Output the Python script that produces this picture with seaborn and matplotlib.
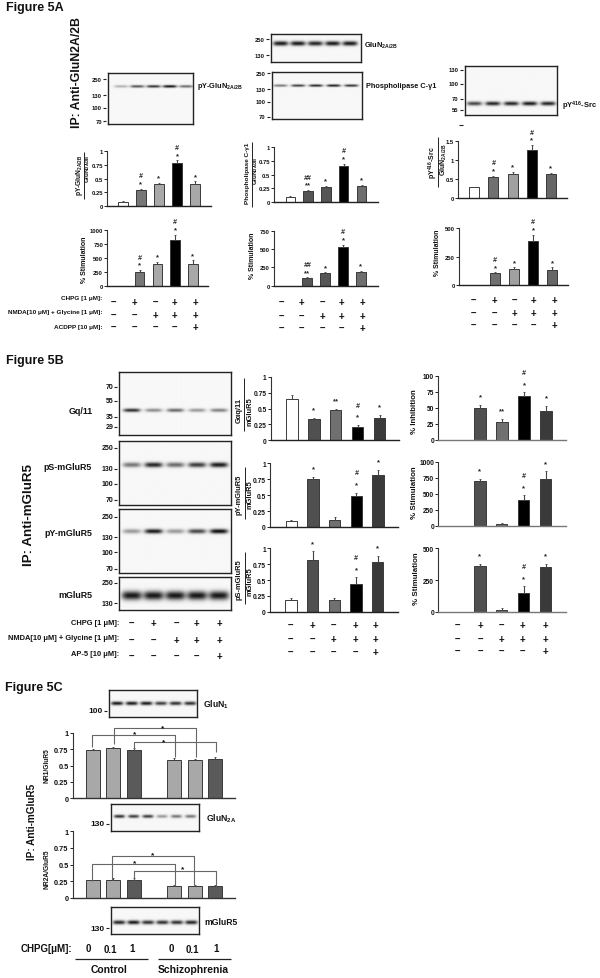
import numpy as np
import pandas as pd
import seaborn as sns
import matplotlib
matplotlib.use("Agg")
import matplotlib.pyplot as plt

W, H = 600, 979

# bar values
a1_values = [0.08, 0.30, 0.41, 0.78, 0.41]
a1_errs = [0.01, 0.02, 0.02, 0.05, 0.04]
a2_values = [0.10, 0.21, 0.28, 0.66, 0.30]
a2_errs = [0.02, 0.01, 0.01, 0.03, 0.01]
a3_values = [0.27, 0.55, 0.64, 1.27, 0.62]
a3_errs = [0.02, 0.03, 0.04, 0.12, 0.04]
a4_values = [0, 250, 390, 825, 390]
a4_errs = [0, 30, 40, 95, 65]
a5_values = [0, 100, 170, 530, 190]
a5_errs = [0, 12, 12, 25, 15]
a6_values = [0, 105, 140, 385, 135]
a6_errs = [0, 8, 15, 55, 20]

b1_values = [0.66, 0.34, 0.48, 0.21, 0.36]
b1_errs = [0.05, 0.02, 0.02, 0.03, 0.04]
b2_values = [0.10, 0.76, 0.11, 0.48, 0.81]
b2_errs = [0.01, 0.03, 0.04, 0.06, 0.09]
b3_values = [0.18, 0.81, 0.19, 0.44, 0.79]
b3_errs = [0.03, 0.14, 0.03, 0.10, 0.09]
b4_values = [0, 49, 27, 68, 45]
b4_errs = [0, 5, 5, 6, 8]
b5_values = [0, 695, 20, 400, 740]
b5_errs = [0, 40, 15, 75, 115]
b6_values = [0, 360, 10, 150, 350]
b6_errs = [0, 20, 20, 50, 30]

c1_values = [0.73, 0.76, 0.73, np.nan, 0.58, 0.58, 0.60]
c1_errs = [0.02, 0.02, 0.03, np.nan, 0.03, 0.02, 0.03]
c2_values = [0.26, 0.27, 0.26, np.nan, 0.18, 0.18, 0.18]
c2_errs = [0.01, 0.02, 0.03, np.nan, 0.015, 0.015, 0.015]

# tick labels
frac_ticks = [0, 0.25, 0.5, 0.75, 1]
frac_labels = ["0", "0.25", "0.5", "0.75", "1"]
a3_ticks = [0, 0.5, 1, 1.5]
a3_labels = ["0", "0.5", "1", "1.5"]
stim1000_ticks = [0, 250, 500, 750, 1000]
stim750_ticks = [0, 250, 500, 750]
stim500_ticks = [0, 250, 500]
inhib_ticks = [0, 25, 50, 75, 100]

# significance marks per bar
a1_stars = ["", "*", "*", "*", "*"]
a2_stars = ["", "**", "*", "*", "*"]
a_hashes = ["", "#", "", "#", ""]
a2_hashes = ["", "##", "", "#", ""]
b1_stars = ["", "*", "**", "*", "*"]
b_stars = ["", "*", "", "*", "*"]
b4_stars = ["", "*", "**", "*", "*"]
b_hashes = ["", "", "", "#", ""]

# treatment rows
chpg_row = ["-", "+", "-", "+", "+"]
nmda_row = ["-", "-", "+", "+", "+"]
drug_row = ["-", "-", "-", "-", "+"]

# band strength per lane
band_a1 = [0.3, 0.7, 0.85, 1.0, 0.6]
band_a2 = [0.95, 0.95, 0.9, 0.95, 0.95]
band_a3 = [0.55, 0.8, 0.9, 0.95, 0.85]
band_src = [0.75, 0.9, 0.9, 0.95, 0.9]
band_gq = [0.85, 0.45, 0.6, 0.4, 0.5]
band_ps = [0.55, 0.9, 0.6, 0.8, 0.95]
band_py = [0.4, 0.95, 0.4, 0.75, 1.0]
band_mglur = [0.95, 0.95, 0.95, 0.95, 0.95]
band_c1 = [0.95, 0.95, 0.95, 0.8, 0.85, 0.85]
band_c2 = [0.85, 0.8, 0.8, 0.4, 0.55, 0.55]
band_c3 = [0.9, 0.95, 0.85, 0.85, 0.85, 0.9]

sns.set_theme(style="white")
plt.rcParams["font.family"] = ["Liberation Sans", "DejaVu Sans"]
plt.rcParams["font.weight"] = "bold"
plt.rcParams["mathtext.fontset"] = "custom"
plt.rcParams["mathtext.bf"] = "Liberation Sans:bold"
plt.rcParams["mathtext.rm"] = "Liberation Sans:bold"
plt.rcParams["mathtext.default"] = "bf"

fig = plt.figure(figsize=(W / 100, H / 100), dpi=100, facecolor="white")

# overlay in pixel coordinates for labels, brackets and rules
ov = fig.add_axes([0, 0, 1, 1], zorder=10)
ov.set_xlim(0, W)
ov.set_ylim(H, 0)
ov.axis("off")
ov.patch.set_alpha(0)


def px_axes(x0, x1, y0, y1):
    return fig.add_axes([x0 / W, 1 - y1 / H, (x1 - x0) / W, (y1 - y0) / H])


def label(x, y, text, size=5, rot=0, ha="center", color="#111111"):
    ov.text(x, y, text, fontsize=size, rotation=rot, ha=ha, va="center",
            color=color, fontweight="bold")


def rule(xs, ys, color="#222222", lw=0.8):
    ov.plot(xs, ys, color=color, lw=lw, solid_capstyle="butt")


def bars(values, errs, colors, box, first, step, barw, ymax, ticks, ticklabels=None,
         stars=None, hashes=None, star_gap=5, hash_gap=8, tick_size=4.2, axis_color="#222222"):
    x0, x1, y_bottom, y_top = box
    ax = px_axes(x0, x1, y_top, y_bottom)
    cats = [f"c{i}" for i in range(len(values))]
    df = pd.DataFrame({"cond": cats, "value": values})
    sns.barplot(data=df, x="cond", y="value", hue="cond", order=cats, hue_order=cats,
                palette=dict(zip(cats, colors)), legend=False, errorbar=None,
                width=barw / step, edgecolor="#3a3a3a", linewidth=0.7, ax=ax)
    pos = np.arange(len(values))
    errs_arr = np.array(errs, dtype=float)
    vals_arr = np.array(values, dtype=float)
    shown = np.nan_to_num(vals_arr) > 0
    ax.errorbar(pos[shown], vals_arr[shown], yerr=[np.zeros(shown.sum()), errs_arr[shown]],
                fmt="none", ecolor="#444444", elinewidth=0.8, capsize=1.0, capthick=0.6)
    ax.set_xlim((x0 - first) / step, (x1 - first) / step)
    ax.set_ylim(0, ymax)
    ax.set_xticks([])
    ax.set_xlabel("")
    ax.set_ylabel("")
    ax.set_yticks(ticks)
    ax.set_yticklabels(ticklabels if ticklabels else [str(t) for t in ticks],
                       fontsize=tick_size, fontweight="bold", color="#111111")
    ax.tick_params(axis="y", length=2, width=0.7, pad=1, left=True, color="#222222")
    ax.patch.set_alpha(0)
    sns.despine(ax=ax)
    ax.spines["left"].set_color("#333333")
    ax.spines["left"].set_linewidth(0.8)
    ax.spines["bottom"].set_color(axis_color)
    ax.spines["bottom"].set_linewidth(1.0)
    if stars:
        for i, s in enumerate(stars):
            top = values[i] + errs[i]
            if s:
                ax.annotate(s, (i, top), xytext=(0, star_gap * 0.72), textcoords="offset points",
                            ha="center", va="center", fontsize=5.5, fontweight="bold",
                            color="#222222", annotation_clip=False)
            if hashes and hashes[i]:
                ax.annotate(hashes[i], (i, top), xytext=(0, (star_gap + hash_gap) * 0.72),
                            textcoords="offset points", ha="center", va="center", fontsize=5,
                            fontstyle="italic", fontweight="bold", color="#222222",
                            annotation_clip=False)
    return ax


def blot(box, first, step, strengths, band_y, half_w, thick, mw=(), mw_labels=(), mw_size=4.2):
    x0, x1, y0, y1 = box
    ax = px_axes(x0, x1, y0, y1)
    xs = np.linspace(x0, x1, int((x1 - x0) * 3))
    ys = np.linspace(y0, y1, int((y1 - y0) * 3))
    xx, yy = np.meshgrid(xs, ys)
    img = np.full(xx.shape, 0.97)
    for i, s in enumerate(strengths):
        cx = first + i * step
        img -= s * 0.92 * np.exp(-((yy - band_y) / thick) ** 2) * np.exp(-((xx - cx) / half_w) ** 4)
    ax.imshow(np.clip(img, 0, 1), cmap="gray", vmin=0, vmax=1, aspect="auto",
              extent=(x0, x1, y1, y0), interpolation="bilinear")
    ax.set_xticks([])
    ax.set_yticks([])
    ax.grid(False)
    for sp in ax.spines.values():
        sp.set_visible(True)
        sp.set_color("#222222")
        sp.set_linewidth(1.0)
    for y, t in zip(mw, mw_labels):
        rule([x0 - 5, x0 - 2], [y, y], lw=0.8)
        label(x0 - 6, y, t, size=mw_size, ha="right")


def treatment_rows(xs, ys, rows):
    for y, row in zip(ys, rows):
        for x, s in zip(xs, row):
            label(x, y, "+" if s == "+" else "\u2013", size=7)


# ---- Figure 5A ----
label(6, 8.5, "Figure 5A", size=9, ha="left")
label(77.5, 73, "IP: Anti-GluN2A/2B", size=8.8, rot=90)

blot((108, 193, 74, 125), 121, 16.3, band_a1, 87.3, 7, 1.3,
     [80, 96, 108.7, 122], ["250", "130", "100", "70"])
label(197, 86, r"pY-GluN$_{2A/2B}$", size=5.3, ha="left")

blot((271, 360.5, 35, 62.7), 280.5, 17.3, band_a2, 44.3, 7.5, 2.3,
     [40, 56], ["250", "130"])
label(364, 46, r"GluN$_{2A/2B}$", size=5.3, ha="left")

blot((271.7, 362.3, 72.7, 120), 280, 17.7, band_a3, 87, 7, 1.2,
     [74.3, 90, 103, 117.7], ["250", "130", "100", "70"])
label(366, 87, "Phospholipase C-\u03b31", size=5.3, ha="left")

blot((464.7, 557.3, 67.3, 116), 474, 18.4, band_src, 104.7, 7.5, 2.0,
     [71, 85, 99.7, 111], ["130", "100", "70", "55"])
label(561.5, 106, r"pY$^{416}$-Src", size=5.4, ha="left")
rule([459, 463], [125.7, 125.7])

a_cols1 = ["white", "#777777", "#a8a8a8", "black", "#a8a8a8"]
a_cols2 = ["white", "#555555", "#555555", "black", "#6e6e6e"]
a_cols3 = ["white", "#707070", "#a0a0a0", "black", "#666666"]

bars(a1_values, a1_errs, a_cols1, (107.3, 211, 207.3, 152), 122.7, 18.1, 10, 1,
     frac_ticks, frac_labels, a1_stars, a_hashes)
bars(a2_values, a2_errs, a_cols2, (274.3, 377.7, 203.3, 147.7), 290.3, 17.8, 9.5, 1,
     frac_ticks, frac_labels, a2_stars, a2_hashes)
bars(a3_values, a3_errs, a_cols3, (458.3, 567.3, 198.7, 142), 474.3, 19.1, 10, 1.5,
     a3_ticks, a3_labels, a1_stars, a_hashes)
bars(a4_values, a4_errs, a_cols1, (107.3, 208.5, 286.7, 231.3), 121.7, 17.8, 9.5, 1000,
     stim1000_ticks, None, a1_stars, a_hashes)
bars(a5_values, a5_errs, a_cols2, (274, 377.7, 286.7, 231.7), 289.3, 17.9, 9.5, 750,
     stim750_ticks, None, a2_stars, a2_hashes)
bars(a6_values, a6_errs, a_cols3, (459.3, 568.3, 286.3, 228.7), 476, 19, 10, 500,
     stim500_ticks, None, a1_stars, a_hashes)

label(79.5, 175, r"pY-GluN$_{2A/2B}$", size=4.8, rot=90)
label(88, 169, r"GluN$_{2A/2B}$", size=4.4, rot=90)
rule([83.8, 83.8], [153, 200], lw=0.7)
label(247, 173, "Phospholipase C-\u03b31", size=4.6, rot=90)
label(255.8, 171, r"GluN$_{2A/2B}$", size=4.4, rot=90)
rule([251.6, 251.6], [142.7, 208], lw=0.7)
label(433, 163, r"pY$^{416}$-Src", size=5, rot=90)
label(444, 159.5, r"GluN$_{2A/2B}$", size=5, rot=90)
rule([438, 438], [137.7, 188], lw=0.7)
label(85, 260, "% Stimulation", size=5, rot=90)
label(252.3, 255.7, "% Stimulation", size=5, rot=90)
label(437.3, 253, "% Stimulation", size=5, rot=90)

label(102, 298.5, "CHPG [1 \u03bcM]:", size=4.6, ha="right")
label(102, 313, "NMDA[10 \u03bcM] + Glycine [1 \u03bcM]:", size=4.6, ha="right")
label(102, 328, "ACDPP [10 \u03bcM]:", size=4.6, ha="right")
treatment_rows([113.7, 134.7, 155, 174, 195], [303, 316, 328.3], [chpg_row, nmda_row, drug_row])
treatment_rows([281.7, 301.7, 322.3, 341.7, 362], [303.3, 317.3, 329], [chpg_row, nmda_row, drug_row])
treatment_rows([473, 494, 514.3, 533.3, 554.3], [300.7, 314, 326], [chpg_row, nmda_row, drug_row])

# ---- Figure 5B ----
label(6, 361, "Figure 5B", size=9, ha="left")
label(29, 515, "IP: Anti-mGluR5", size=9.6, rot=90)

blot((119.3, 230.7, 373, 436), 132, 21.7, band_gq, 411.3, 8.5, 1.8,
     [388, 402, 417.7, 427.7], ["70", "55", "35", "29"], mw_size=5)
blot((119.3, 230.7, 442, 505.7), 132, 21.7, band_ps, 465.7, 9, 2.5,
     [449, 469.7, 485, 501], ["250", "130", "100", "70"], mw_size=5)
blot((119.3, 230.7, 510.3, 573.7), 132, 21.7, band_py, 532.3, 9, 2.3,
     [517.7, 538.3, 553.3, 570], ["250", "130", "100", "70"], mw_size=5)
blot((119.3, 230.7, 578.3, 610.7), 132, 21.7, band_mglur, 596.5, 10, 4.4,
     [583.7, 604.3], ["250", "130"], mw_size=5)
label(92.7, 411.7, "Gq/11", size=6.4, ha="right")
label(92, 467.5, "pS-mGluR5", size=6.4, ha="right")
label(92, 534, "pY-mGluR5", size=6.4, ha="right")
label(92, 596, "mGluR5", size=6.4, ha="right")

b_cols1 = ["white", "#505050", "#707070", "black", "#3a3a3a"]

bars(b1_values, b1_errs, b_cols1, (270.7, 399, 441.3, 378), 292, 21.9, 11.3, 1,
     frac_ticks, frac_labels, b1_stars, b_hashes, star_gap=8, hash_gap=12, tick_size=4.8)
bars(b2_values, b2_errs, b_cols1, (270, 397.7, 528, 464.3), 291.3, 21.7, 11.3, 1,
     frac_ticks, frac_labels, b_stars, b_hashes, star_gap=8, hash_gap=12, tick_size=4.8)
bars(b3_values, b3_errs, b_cols1, (270, 397.7, 612.7, 549.3), 291, 21.7, 11.3, 1,
     frac_ticks, frac_labels, b_stars, b_hashes, star_gap=8, hash_gap=12, tick_size=4.8)
bars(b4_values, b4_errs, b_cols1, (438.3, 565.7, 440.7, 376.7), 458, 22, 11.3, 100,
     inhib_ticks, None, b4_stars, b_hashes, star_gap=8, hash_gap=12, tick_size=4.8, axis_color="#777777")
bars(b5_values, b5_errs, b_cols1, (438.3, 565.7, 526.7, 463), 458, 21.9, 11.3, 1000,
     stim1000_ticks, None, b_stars, b_hashes, star_gap=8, hash_gap=12, tick_size=4.8, axis_color="#777777")
bars(b6_values, b6_errs, b_cols1, (438.3, 565.7, 612.7, 549.3), 458, 21.9, 11.3, 500,
     stim500_ticks, None, b_stars, b_hashes, star_gap=8, hash_gap=12, tick_size=4.8, axis_color="#777777")

label(239.3, 410, "G\u03b1q/11", size=5.4, rot=90)
label(250, 411.7, "mGluR5", size=5.4, rot=90)
rule([244.3, 244.3], [379.3, 431.7], lw=0.7)
label(239.5, 495, "pY-mGluR5", size=5.4, rot=90)
label(250, 495, "mGluR5", size=5.4, rot=90)
rule([244.7, 244.7], [468.3, 520], lw=0.7)
label(239.5, 580, "pS-mGluR5", size=5.4, rot=90)
label(250, 581.5, "mGluR5", size=5.4, rot=90)
rule([244.7, 244.7], [552.7, 605], lw=0.7)
label(414.3, 411.7, "% Inhibition", size=5.7, rot=90)
label(414.3, 492.3, "% Stimulation", size=5.7, rot=90)
label(416, 578.3, "% Stimulation", size=5.7, rot=90)

label(119, 624, "CHPG [1 \u03bcM]:", size=5.4, ha="right")
label(119, 638.5, "NMDA[10 \u03bcM] + Glycine [1 \u03bcM]:", size=5.4, ha="right")
label(119, 655, "AP-5 [10 \u03bcM]:", size=5.4, ha="right")
treatment_rows([131.7, 153.3, 176, 196.7, 219.3], [624, 641, 656.7], [chpg_row, nmda_row, drug_row])
treatment_rows([290.3, 312, 333.7, 355, 375.3], [626, 640, 652.7], [chpg_row, nmda_row, drug_row])
treatment_rows([457.7, 480, 501.7, 522.7, 545], [626, 640, 652.3], [chpg_row, nmda_row, drug_row])

# ---- Figure 5C ----
label(5, 687.7, "Figure 5C", size=9, ha="left")
label(31.7, 821.7, "IP: Anti-mGluR5", size=7.2, rot=90)

blot((108.7, 197.3, 690.7, 718), 116.7, 14.6, band_c1, 704.7, 6, 1.8, [711.7], ["100"], mw_size=6)
label(203, 704.7, r"GluN$_{1}$", size=6.2, ha="left")
blot((111, 199, 805, 832.3), 119.3, 14.3, band_c2, 818, 5.5, 1.6, [825], ["130"], mw_size=6)
label(205.5, 819, r"GluN$_{2A}$", size=6.2, ha="left")
blot((111, 199, 908.3, 935), 119, 14.5, band_c3, 923.5, 6.2, 2.0, [929.3], ["130"], mw_size=6)
label(204.5, 922.3, "mGluR5", size=6.2, ha="left")

c_cols = ["#a8a8a8", "#a8a8a8", "#5a5a5a", "white", "#a8a8a8", "#a8a8a8", "#5a5a5a"]
bars(c1_values, c1_errs, c_cols, (72.7, 235, 799.3, 733.7), 93, 20.33, 14, 1,
     frac_ticks, frac_labels, tick_size=5.3, axis_color="#333333")
bars(c2_values, c2_errs, c_cols, (72.7, 235, 898.7, 832.3), 93, 20.33, 14, 1,
     frac_ticks, frac_labels, tick_size=5.3, axis_color="#333333")
label(47, 766, "NR1/GluR5", size=4.8, rot=90)
label(47, 869, "NR2A/GluR5", size=4.8, rot=90)

br = "#666666"
rule([92.3, 92.3, 175, 175], [748, 736, 736, 758], color=br)
rule([114.3, 114.3, 196, 196], [745, 729.3, 729.3, 758], color=br)
rule([133.7, 133.7, 216, 216], [750, 742.7, 742.7, 753.3], color=br)
label(134.3, 734.5, "*", size=6)
label(162.3, 729, "*", size=6)
label(163.7, 742.5, "*", size=6)
rule([92.3, 92.3, 175, 175], [881.7, 865, 865, 886.7], color=br)
rule([111.7, 111.7, 194.3, 194.3], [880.7, 856.7, 856.7, 886], color=br)
rule([133.7, 133.7, 216, 216], [880.7, 871.7, 871.7, 886.7], color=br)
label(134.3, 863.5, "*", size=6)
label(152.3, 855.5, "*", size=6)
label(182.3, 870, "*", size=6)

label(72.7, 949.3, "CHPG[\u03bcM]:", size=7, ha="right")
for x, y, t in zip([88.7, 110, 132.3, 171.7, 192.3, 216],
                   [949.3, 950.5, 949.3, 949.3, 950.5, 949.3],
                   ["0", "0.1", "1", "0", "0.1", "1"]):
    label(x, y, t, size=7)
rule([75.3, 148.3], [960.3, 960.3], lw=0.9)
rule([157.7, 231], [960.3, 960.3], lw=0.9)
label(108.7, 970, "Control", size=7.5)
label(193.3, 970, "Schizophrenia", size=7.5)

fig.savefig("out.png", dpi=100, facecolor="white")
